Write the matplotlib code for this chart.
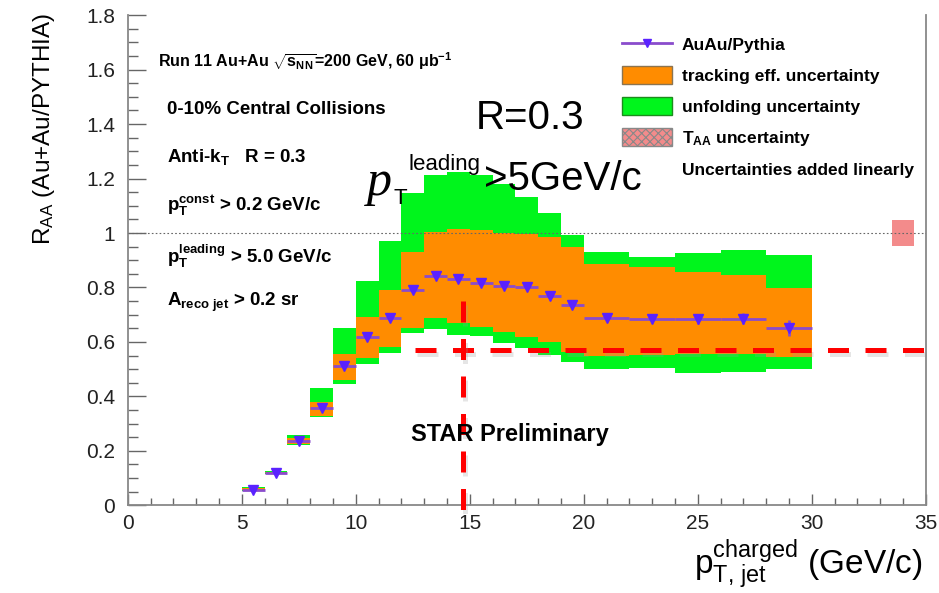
import matplotlib
matplotlib.use('Agg')
import matplotlib.pyplot as plt
import matplotlib.patheffects as pe
from matplotlib.lines import Line2D
from matplotlib.patches import Patch, Rectangle
import numpy as np

plt.rcParams['font.family'] = ['Liberation Sans', 'DejaVu Sans']
plt.rcParams['mathtext.fontset'] = 'custom'
plt.rcParams['mathtext.rm'] = 'Liberation Sans'
plt.rcParams['mathtext.it'] = 'Liberation Sans:italic'
plt.rcParams['hatch.color'] = '#e66a6a'
plt.rcParams['hatch.linewidth'] = 0.8

#### DATA
bin_lo = [5, 6, 7, 8, 9, 10, 11, 12, 13, 14, 15, 16, 17, 18, 19, 20, 22, 24, 26, 28]
bin_hi = [6, 7, 8, 9, 10, 11, 12, 13, 14, 15, 16, 17, 18, 19, 20, 22, 24, 26, 28, 30]
raa = [0.058, 0.120, 0.235, 0.356, 0.510, 0.617, 0.688, 0.790, 0.842, 0.830,
       0.818, 0.806, 0.803, 0.768, 0.737, 0.688, 0.683, 0.683, 0.685, 0.652]
stat = [0.005, 0.006, 0.008, 0.010, 0.010, 0.010, 0.010, 0.010, 0.010, 0.010,
        0.010, 0.010, 0.010, 0.010, 0.012, 0.012, 0.014, 0.016, 0.020, 0.030]
track_lo = [0.055, 0.117, 0.225, 0.328, 0.460, 0.540, 0.580, 0.652, 0.687, 0.668,
            0.656, 0.637, 0.619, 0.598, 0.564, 0.548, 0.552, 0.555, 0.556, 0.546]
track_hi = [0.062, 0.123, 0.247, 0.380, 0.555, 0.690, 0.790, 0.930, 1.005, 1.013,
            1.010, 1.000, 0.995, 0.985, 0.950, 0.887, 0.874, 0.858, 0.846, 0.797]
unf_lo = [0.052, 0.115, 0.221, 0.325, 0.445, 0.520, 0.558, 0.632, 0.647, 0.625,
          0.620, 0.595, 0.577, 0.553, 0.527, 0.502, 0.503, 0.485, 0.490, 0.500]
unf_hi = [0.068, 0.126, 0.257, 0.430, 0.650, 0.825, 0.970, 1.146, 1.213, 1.225,
          1.213, 1.180, 1.133, 1.073, 0.993, 0.930, 0.912, 0.927, 0.937, 0.920]
taa_x = 34
taa_err = 0.048

lo = np.array(bin_lo, float)
hi = np.array(bin_hi, float)
xc = (lo + hi) / 2
xw = hi - lo

W, H = 939, 593
def fx(px): return px / W
def fy(py): return 1 - py / H

fig = plt.figure(figsize=(W / 100, H / 100), dpi=100)
ax = fig.add_axes([fx(127.7), fy(505.3), (925.7 - 127.7) / W, (505.3 - 15.2) / H])

green = '#00f51c'
orange = '#ff8c00'
ax.bar(xc, np.array(unf_hi) - np.array(unf_lo), width=xw, bottom=unf_lo, color=green, lw=0, zorder=1)
ax.bar(xc, np.array(track_hi) - np.array(track_lo), width=xw, bottom=track_lo, color=orange, lw=0, zorder=2)
ax.add_patch(Rectangle((taa_x - 0.5, 1 - taa_err), 1, 2 * taa_err, facecolor='#f38b8b',
                       edgecolor='none', hatch='xxxx', zorder=2))
ax.axhline(1, color='#666666', lw=0.8, ls=(0, (1.5, 2)), zorder=3)
ax.errorbar(xc, raa, xerr=xw / 2, yerr=stat, fmt='v', color='#5a22ff', ecolor='#8a4ccc',
            elinewidth=2, capsize=0, markersize=6.5, zorder=5)

ax.set_xlim(0, 35)
ax.set_ylim(0, 1.8)
ax.set_xticks(np.arange(0, 36, 5))
ax.set_xticks(np.arange(0, 36, 1), minor=True)
ax.set_yticks(np.arange(0, 1.81, 0.2))
ax.set_yticks(np.arange(0, 1.81, 0.05), minor=True)
ax.set_yticklabels(['0', '0.2', '0.4', '0.6', '0.8', '1', '1.2', '1.4', '1.6', '1.8'])
ax.tick_params(axis='x', which='major', direction='in', length=8, width=1, colors='#666666',
               labelcolor='#222222', labelsize=15, pad=6)
ax.tick_params(axis='x', which='minor', direction='in', length=5, width=1, colors='#666666')
ax.tick_params(axis='y', which='major', direction='in', length=13, width=1, colors='#666666',
               labelcolor='#222222', labelsize=15, pad=9)
ax.tick_params(axis='y', which='minor', direction='in', length=7, width=1, colors='#666666')
ax.spines['top'].set_visible(False)
for s in ['left', 'bottom', 'right']:
    ax.spines[s].set_color('#888888')
    ax.spines[s].set_linewidth(1.3)

# red dashed annotation lines with soft shadow
shadow = [pe.SimpleLineShadow(offset=(1.5, -3), shadow_color='#999999', alpha=0.25), pe.Normal()]
ax.plot([12.6, 35.7], [0.57, 0.57], color='#ff0000', lw=3.6, dashes=(4.2, 3.3),
        clip_on=False, zorder=6, path_effects=shadow)
ax.plot([14.72, 14.72], [0.75, -0.02], color='#ff0000', lw=3.6, dashes=(4.2, 3.3),
        clip_on=False, zorder=6, path_effects=shadow)

# axis titles
fig.text(fx(44), fy(129), 'R$_{\\mathregular{AA}}$ (Au+Au/PYTHIA)', rotation=90,
         fontsize=17.5, ha='center', va='center')
fig.text(fx(922), fy(565), 'p$_{\\mathregular{T,\\,jet}}^{\\mathregular{charged}}$ (GeV/c)',
         fontsize=24, ha='right', va='center')

# run info texts
fs = 13.5
fig.text(fx(158), fy(61), 'Run 11 Au+Au $\\sqrt{\\mathregular{s}_{\\mathregular{NN}}}$=200 GeV, 60 \u03bcb$^{\\mathregular{-1}}$',
         fontsize=11.5, fontweight='bold', va='center')
fig.text(fx(167), fy(110), '0-10% Central Collisions', fontsize=fs, fontweight='bold', va='center')
fig.text(fx(167), fy(157), 'Anti-k$_{\\mathregular{T}}$   R = 0.3', fontsize=fs, fontweight='bold', va='center')
fig.text(fx(167), fy(205), 'p$_{\\mathregular{T}}^{\\mathregular{const}}$ > 0.2 GeV/c', fontsize=fs,
         fontweight='bold', va='center')
fig.text(fx(167), fy(256), 'p$_{\\mathregular{T}}^{\\mathregular{leading}}$ > 5.0 GeV/c', fontsize=fs,
         fontweight='bold', va='center')
fig.text(fx(167), fy(302), 'A$_{\\mathregular{reco\\ jet}}$ > 0.2 sr', fontsize=fs,
         fontweight='bold', va='center')
fig.text(fx(510), fy(434), 'STAR Preliminary', fontsize=17, fontweight='bold', ha='center', va='center')

# big R=0.3 and pT leading text
fig.text(fx(476), fy(118), 'R=0.3', fontsize=29, va='center')
fig.text(fx(367), fy(195), 'p', fontsize=36, family='Liberation Serif', style='italic', va='baseline')
fig.text(fx(393), fy(204), 'T', fontsize=16, va='baseline')
fig.text(fx(409), fy(170), 'leading', fontsize=16, va='baseline')
fig.text(fx(484), fy(190), '>5GeV/c', fontsize=29, va='baseline')

# legend
handles = [Line2D([], [], color='#8a4ccc', lw=2, marker='v', markersize=6,
                  markerfacecolor='#5a22ff', markeredgecolor='#5a22ff'),
           Patch(facecolor=orange, edgecolor='#8c7450', lw=1),
           Patch(facecolor=green, edgecolor='#1c8c1c', lw=1),
           Patch(facecolor='#f38b8b', edgecolor='#888888', lw=1, hatch='xxxx'),
           Patch(facecolor='none', edgecolor='none')]
labels = ['AuAu/Pythia', 'tracking eff. uncertainty', 'unfolding uncertainty',
          'T$_{\\mathregular{AA}}$ uncertainty', 'Uncertainties added linearly']
fig.legend(handles, labels, loc='upper left', bbox_to_anchor=(fx(622), fy(35)),
           frameon=False, prop={'size': 12.5, 'weight': 'bold'}, handlelength=2.9,
           handleheight=1.25, labelspacing=0.72, handletextpad=0.55, borderpad=0,
           borderaxespad=0)

fig.savefig('out.png', dpi=100)
